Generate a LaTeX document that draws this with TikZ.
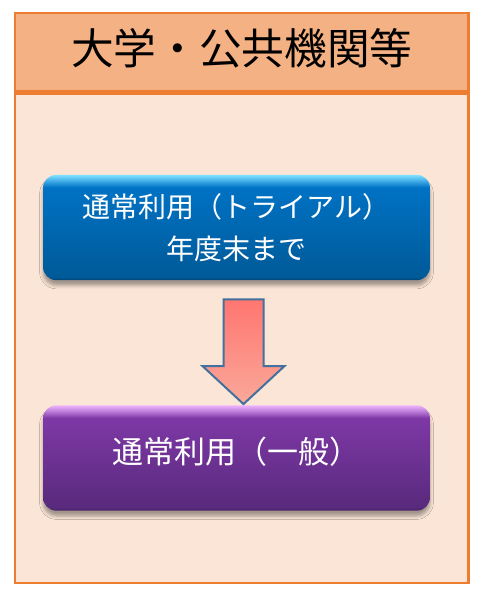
\documentclass[tikz,border=0pt]{standalone}
\usepackage{fontspec}
\newfontfamily\jpfont{Noto Sans CJK JP}
\usetikzlibrary{calc,shadows.blur}

\definecolor{frameorange}{RGB}{237,125,49}
\definecolor{titlefill}{RGB}{244,177,131}
\definecolor{bodyfill}{RGB}{251,229,214}
\definecolor{arrowline}{RGB}{65,113,156}
\definecolor{arrowtop}{RGB}{255,118,112}
\definecolor{arrowbottom}{RGB}{250,168,154}
\definecolor{blueedge}{RGB}{0,70,120}
\definecolor{bluedark}{RGB}{0,90,152}
\definecolor{bluemain}{RGB}{0,114,196}
\definecolor{bluemid}{RGB}{60,170,230}
\definecolor{bluelight}{RGB}{130,225,255}
\definecolor{purpleedge}{RGB}{70,30,100}
\definecolor{purpledark}{RGB}{88,42,124}
\definecolor{purplemain}{RGB}{126,56,166}
\definecolor{purplemid}{RGB}{185,120,215}
\definecolor{purplelight}{RGB}{238,180,252}

\pgfdeclareverticalshading{blueface}{100bp}{color(0bp)=(blueedge); color(25bp)=(blueedge); color(26.5bp)=(bluedark); color(69bp)=(bluemain); color(72bp)=(bluemid); color(75bp)=(bluelight); color(100bp)=(bluelight)}
\pgfdeclareverticalshading{purpleface}{100bp}{color(0bp)=(purpleedge); color(25bp)=(purpleedge); color(26.5bp)=(purpledark); color(69bp)=(purplemain); color(72bp)=(purplemid); color(75bp)=(purplelight); color(100bp)=(purplelight)}

\tikzset{
  plan/.style={rounded corners=10pt, minimum width=290.25pt, minimum height=79pt,
    inner sep=0pt, align=center, text=white,
    blur shadow={shadow xshift=0pt, shadow yshift=-4pt, shadow blur radius=2.5pt, shadow opacity=35}},
  frame/.style={draw=frameorange, line width=2pt}
}

\begin{document}
\begin{tikzpicture}[x=0.75pt,y=0.75pt,yscale=-1,xscale=1]
\useasboundingbox (0,0) rectangle (487,599);

%Shape: body of the frame
\draw [frame, fill=bodyfill] (15,93.5) rectangle (468.5,583);
% Title
\node (title) [frame, fill=titlefill, minimum width=340.1pt, minimum height=58.9pt, inner sep=0pt,
  text height=28pt, text depth=9.6pt, font=\jpfont\fontsize{32}{38}\selectfont] at (241.75,52.25) {大学・公共機関等};

% Boxes
\node (trial) [plan, shading=blueface, font=\jpfont\fontsize{21}{31.5}\selectfont] at (236.5,227.5)
  {通常利用（トライアル）\\年度末まで};
\node (general) [plan, shading=purpleface, text height=20pt, text depth=11.5pt,
  font=\jpfont\fontsize{23.25}{30}\selectfont] at (236.5,458)
  {通常利用（一般）};

% Block arrow
\coordinate (tail) at ($(trial.south)+(7,19)$);
\coordinate (tip) at ($(general.north)+(7,-1)$);
\draw [draw=arrowline, line width=1.5pt, top color=arrowtop, bottom color=arrowbottom]
  ($(tail)+(-20,0)$) -- ($(tail)+(20,0)$) -- ($(tip)+(20,-38)$) -- ($(tip)+(41,-38)$)
  -- (tip) -- ($(tip)+(-41,-38)$) -- ($(tip)+(-20,-38)$) -- cycle;

\end{tikzpicture}
\end{document}
